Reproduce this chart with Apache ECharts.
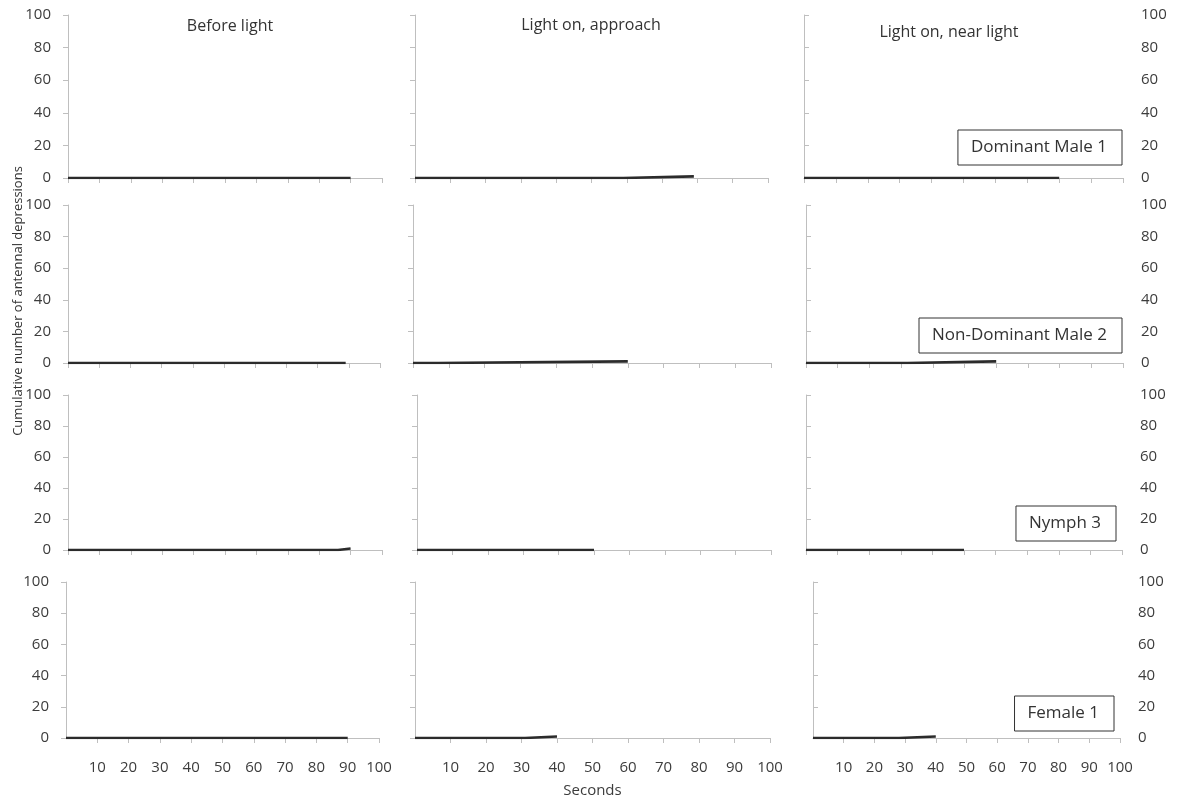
<!DOCTYPE html>
<html>
<head>
<meta charset="utf-8">
<script src="https://cdn.jsdelivr.net/npm/echarts@6/dist/echarts.min.js"></script>
<style>
html,body{margin:0;padding:0;background:#fff;}
#chart{width:1178px;height:803px;}
</style>
</head>
<body>
<div id="chart"></div>
<script>
// ---- data ----
const phases = ['Before light', 'Light on, approach', 'Light on, near light'];
const subjects = ['Dominant Male 1', 'Non-Dominant Male 2', 'Nymph 3', 'Female 1'];
const xTickValues = [0, 10, 20, 30, 40, 50, 60, 70, 80, 90, 100];
const yTickValues = [0, 20, 40, 60, 80, 100];
const xAxisTitle = 'Seconds';
const yAxisTitle = 'Cumulative number of antennal depressions';

// [seconds, cumulative count] — count changes at the listed second (step line)
const dominantMale1Before = [[0, 0], [90, 0]];
const dominantMale1Approach = [[0, 0], [59, 1], [79, 1]];
const dominantMale1Near = [[0, 0], [80, 0]];
const nonDominantMale2Before = [[0, 0], [89, 0]];
const nonDominantMale2Approach = [[0, 0], [7, 1], [60, 1]];
const nonDominantMale2Near = [[0, 0], [32, 1], [60, 1]];
const nymph3Before = [[0, 0], [86, 1], [90, 1]];
const nymph3Approach = [[0, 0], [50, 0]];
const nymph3Near = [[0, 0], [50, 0]];
const female1Before = [[0, 0], [90, 0]];
const female1Approach = [[0, 0], [31, 1], [40, 1]];
const female1Near = [[0, 0], [28, 1], [40, 1]];

const panelData = [
  [dominantMale1Before, dominantMale1Approach, dominantMale1Near],
  [nonDominantMale2Before, nonDominantMale2Approach, nonDominantMale2Near],
  [nymph3Before, nymph3Approach, nymph3Near],
  [female1Before, female1Approach, female1Near]
];

// ---- layout ----
const rowsY = [[15, 178], [205, 363], [395, 550], [582, 738]];
const colsX = [
  [[68, 382], [415, 768], [804, 1123]],
  [[68, 380], [413, 771], [806, 1123]],
  [[68, 382], [417, 771], [806, 1122]],
  [[66, 379], [415, 770], [813, 1120]]
];
const legendBoxes = [
  {right: 56, top: 130},
  {right: 56, top: 318},
  {right: 62, top: 506},
  {right: 64, top: 696}
];

const FONT = 'Open Sans';
const axisGray = '#bfbfbf';
const textGray = '#3c3c3c';

const grids = [], xAxes = [], yAxes = [], series = [], legends = [];
let idx = 0;
for (let r = 0; r < 4; r++) {
  for (let c = 0; c < 3; c++) {
    const [x0, x1] = colsX[r][c];
    const [y0, y1] = rowsY[r];
    grids.push({left: x0, top: y0, width: x1 - x0, height: y1 - y0, containLabel: false});
    xAxes.push({
      type: 'value', gridIndex: idx, min: xTickValues[0], max: xTickValues[xTickValues.length - 1], interval: 10,
      axisLine: {show: true, lineStyle: {color: axisGray, width: 1}},
      axisTick: {show: true, length: 5, lineStyle: {color: axisGray}},
      splitLine: {show: false},
      axisLabel: {
        show: r === 3, showMinLabel: false, margin: 22,
        color: textGray, fontFamily: FONT, fontSize: 15
      },
      name: (r === 3 && c === 1) ? xAxisTitle : '',
      nameLocation: 'middle', nameGap: 45,
      nameTextStyle: {color: textGray, fontFamily: FONT, fontSize: 15}
    });
    yAxes.push({
      type: 'value', gridIndex: idx, min: yTickValues[0], max: yTickValues[yTickValues.length - 1], interval: 20,
      position: c === 2 ? 'right' : 'left',
      axisLine: {show: true, lineStyle: {color: axisGray, width: 1}},
      axisTick: {show: true, length: 5, lineStyle: {color: axisGray}},
      splitLine: {show: false},
      axisLabel: {show: c !== 1, margin: c === 2 ? 18 : 17, color: textGray, fontFamily: FONT, fontSize: 15}
    });
    series.push({
      type: 'line',
      name: c === 2 ? subjects[r] : subjects[r] + ' - ' + phases[c],
      xAxisIndex: idx, yAxisIndex: idx,
      data: panelData[r][c],
      step: 'end',
      showSymbol: false, symbol: 'none',
      lineStyle: {color: '#2b2b2b', width: 2.6},
      areaStyle: {color: '#000', opacity: 1},
      itemStyle: {color: '#2b2b2b'},
      animation: false
    });
    idx++;
  }
  legends.push({
    data: [subjects[r]],
    right: legendBoxes[r].right, top: legendBoxes[r].top,
    icon: 'none', itemWidth: 0, itemHeight: 10,
    borderColor: '#333', borderWidth: 1, borderRadius: 0,
    padding: [9, 15, 9, 8],
    backgroundColor: '#fff',
    selectedMode: false,
    textStyle: {color: '#333', fontFamily: FONT, fontSize: 17}
  });
}

const titleStyle = {color: '#333', fontFamily: FONT, fontSize: 16, fontWeight: 'normal'};
const chart = echarts.init(document.getElementById('chart'), null, {renderer: 'canvas'});
chart.setOption({
  animation: false,
  backgroundColor: '#fff',
  grid: grids,
  xAxis: xAxes,
  yAxis: yAxes,
  series: series,
  legend: legends,
  title: [
    {text: phases[0], left: 230, top: 18, textAlign: 'center', textStyle: titleStyle, padding: 0},
    {text: phases[1], left: 591, top: 17, textAlign: 'center', textStyle: titleStyle, padding: 0},
    {text: phases[2], left: 949, top: 24, textAlign: 'center', textStyle: titleStyle, padding: 0}
  ],
  graphic: [{
    type: 'text', x: 18, y: 301, rotation: Math.PI / 2,
    style: {text: yAxisTitle, fill: '#333', font: '13px "Open Sans"', textAlign: 'center', textVerticalAlign: 'middle'}
  }]
});
</script>
</body>
</html>
